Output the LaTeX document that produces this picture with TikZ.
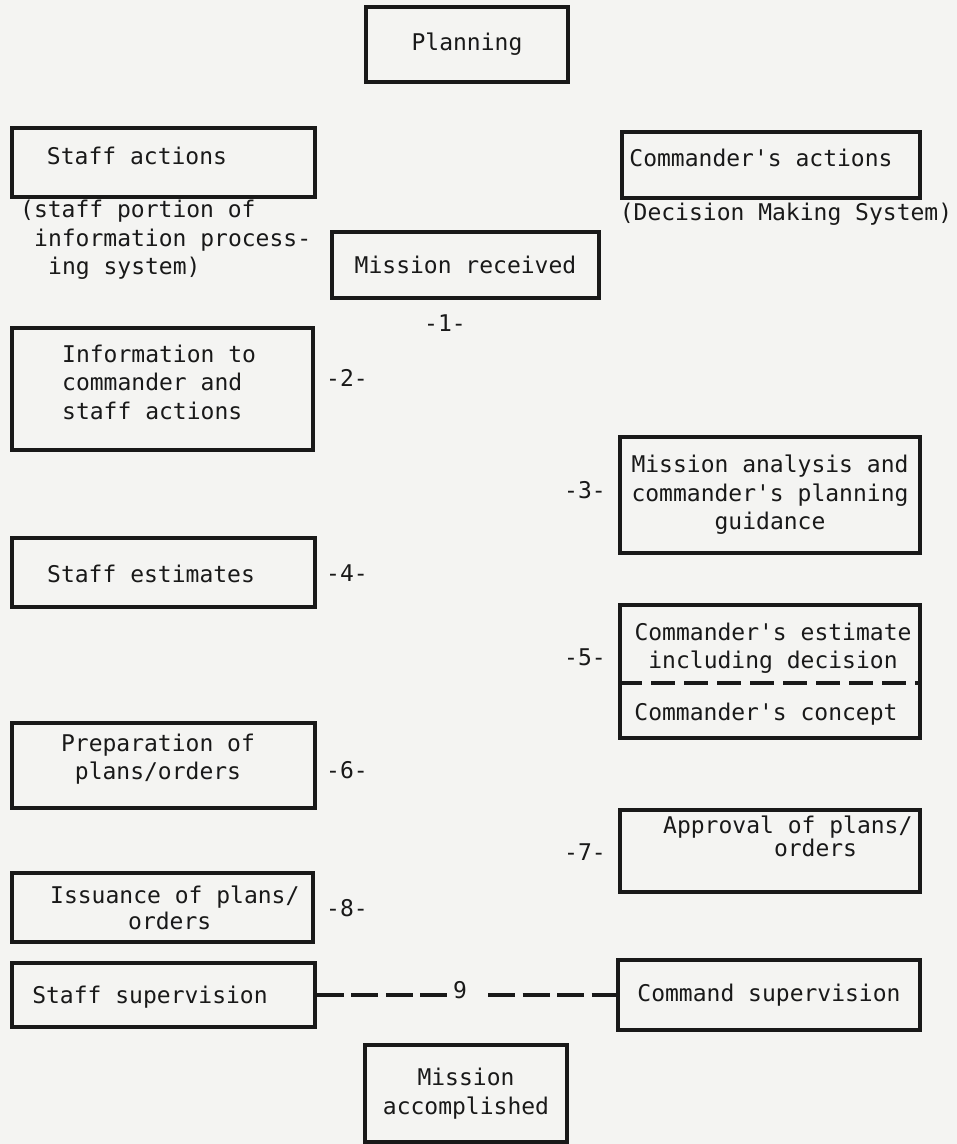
\documentclass[tikz,border=0pt]{standalone}
\usepackage{fontspec}
\setmonofont{DejaVu Sans Mono}
\definecolor{paper}{RGB}{244,244,242}
\definecolor{ink}{RGB}{25,25,25}

\begin{document}
\begin{tikzpicture}[x=1pt, y=-1pt,
  box/.style={draw=ink, line width=3.5pt, inner sep=0pt},
  txt/.style={text=ink, inner sep=0pt, font=\ttfamily\fontsize{23}{28.5}\selectfont},
  dashline/.style={draw=ink, line width=3.5pt, dash pattern=on 27pt off 7.5pt},
  divider/.style={draw=ink, line width=3.5pt, dash pattern=on 24pt off 9pt}]
\fill[paper] (0,0) rectangle (957,1144);

\node[box, txt, minimum width=202pt, minimum height=75pt] (plan) at (467,44.5) {Planning};

% left column
\node[box, minimum width=303pt, minimum height=69pt] (staffact) at (163.5,162.5) {};
\node[txt] (staffacttxt) at (137,156) {Staff actions};
\node[txt, anchor=west, align=left] (staffnote) at (20,240) {(staff portion of\\\hspace*{14pt}information process-\\\hspace*{28pt}ing system)};

\node[box, minimum width=301pt, minimum height=122pt] (info) at (162.5,389) {};
\node[txt, anchor=west, align=left] (infotxt) at (62,382) {Information to\\commander and\\staff actions};

\node[box, minimum width=303pt, minimum height=69pt] (staffest) at (163.5,572.5) {};
\node[txt, anchor=west] (staffesttxt) at (47,574) {Staff estimates};

\node[box, minimum width=303pt, minimum height=85pt] (prep) at (163.5,765.5) {};
\node[txt, align=center] (preptxt) at (158,759) {Preparation of\\plans/orders};

\node[box, minimum width=301pt, minimum height=69pt] (issue) at (162.5,907.5) {};
\node[txt, anchor=west] (issuetxt) at (50,897) {Issuance of plans/};
\node[txt, anchor=west] (issuetxtb) at (128,921) {orders};

\node[box, minimum width=303pt, minimum height=64pt] (staffsup) at (163.5,995) {};
\node[txt] (staffsuptxt) at (150,997) {Staff supervision};

% middle
\node[box, txt, minimum width=267pt, minimum height=66pt] (misrec) at (465.5,265) {Mission received};
\node[box, txt, align=center, minimum width=202pt, minimum height=97pt] (misacc) at (466,1093.5) {Mission\\accomplished};

% right column
\node[box, minimum width=298pt, minimum height=66pt] (cmdact) at (771,165) {};
\node[txt] (cmdacttxt) at (761,158) {Commander's actions};
\node[txt] (cmdnote) at (786,214) {(Decision Making System)};

\node[box, txt, align=center, minimum width=300pt, minimum height=116pt] (misana) at (770,495) {Mission analysis and\\commander's planning\\guidance};

\node[box, minimum width=300pt, minimum height=133pt] (cmdest) at (770,671.5) {};
\node[txt, align=center] (cmdesttxt) at (773,648) {Commander's estimate\\including decision};
\draw[divider] ([yshift=-11.5pt]cmdest.west) -- ([yshift=-11.5pt]cmdest.east);
\node[txt] (concepttxt) at (766,714) {Commander's concept};

\node[box, minimum width=300pt, minimum height=82pt] (approv) at (770,851) {};
\node[txt, anchor=west, align=left, font=\ttfamily\fontsize{23}{23}\selectfont] (approvtxt) at (663,836) {Approval of plans/\\\hspace*{110.8pt}orders};

\node[box, txt, minimum width=302pt, minimum height=70pt] (cmdsup) at (769,995) {Command supervision};

% step numbers
\foreach \n/\x/\y in {1/445/323, 2/347/378, 3/585/490, 4/347/573, 5/585/657, 6/347/770, 7/585/852, 8/347/908}
{
	\node[txt] (step\n) at (\x,\y) {-\n-};
}

\node[txt] (nine) at (460,990) {9};
\coordinate (dashL) at (447,995);
\coordinate (dashR) at (488,995);
\draw[dashline] (staffsup.east) -- (dashL);
\draw[dashline] (dashR) -- (cmdsup.west);

\end{tikzpicture}
\end{document}
